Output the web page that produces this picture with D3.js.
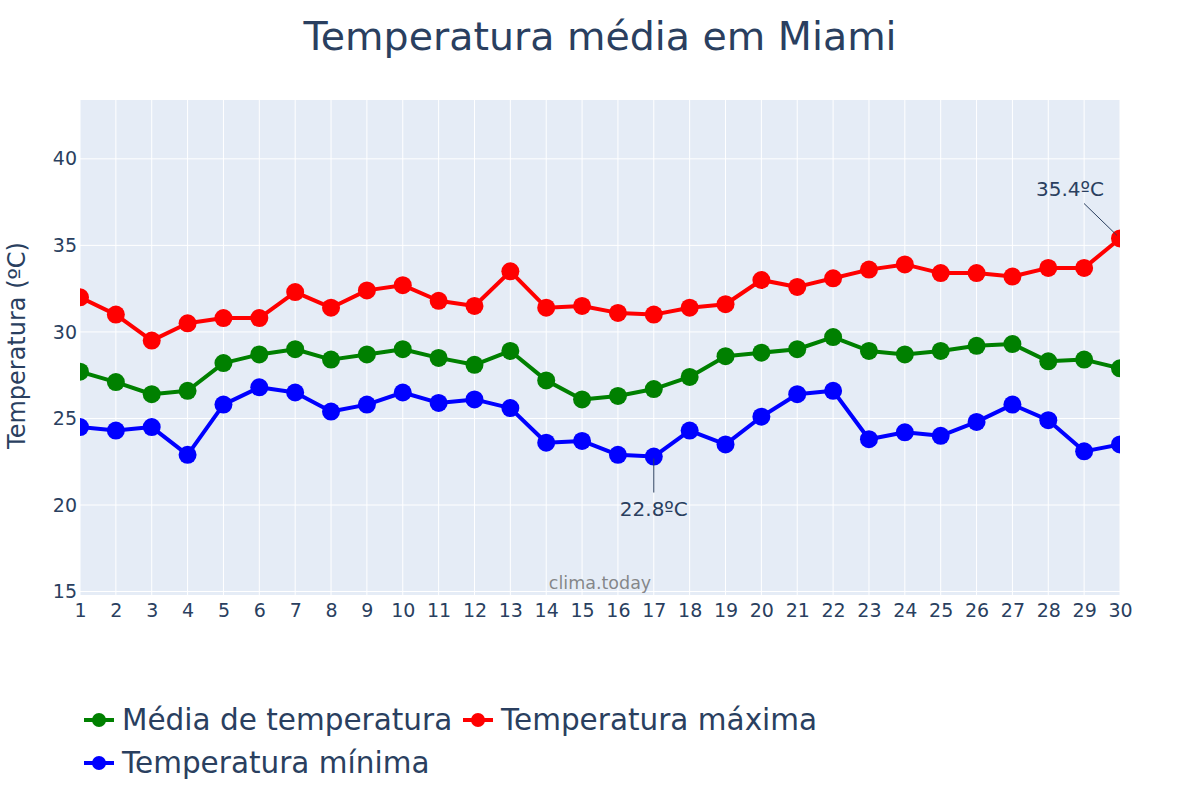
<!DOCTYPE html>
<html><head><meta charset="utf-8">
<script src="https://cdn.jsdelivr.net/npm/d3@7"></script>
<style>body{margin:0;background:#fff;} svg{display:block;}</style>
</head><body>
<svg id="c" width="1200" height="800"></svg>
<script>
const days = d3.range(1, 31);
const tempMedia = [27.7,27.1,26.4,26.6,28.2,28.7,29.0,28.4,28.7,29.0,28.5,28.1,28.9,27.2,26.1,26.3,26.7,27.4,28.6,28.8,29.0,29.7,28.9,28.7,28.9,29.2,29.3,28.3,28.4,27.9];
const tempMax = [32.0,31.0,29.5,30.5,30.8,30.8,32.3,31.4,32.4,32.7,31.8,31.5,33.5,31.4,31.5,31.1,31.0,31.4,31.6,33.0,32.6,33.1,33.6,33.9,33.4,33.4,33.2,33.7,33.7,35.4];
const tempMin = [24.5,24.3,24.5,22.9,25.8,26.8,26.5,25.4,25.8,26.5,25.9,26.1,25.6,23.6,23.7,22.9,22.8,24.3,23.5,25.1,26.4,26.6,23.8,24.2,24.0,24.8,25.8,24.9,23.1,23.5];
const yTicks = [15,20,25,30,35,40];
const seriesNames = ["Média de temperatura","Temperatura máxima","Temperatura mínima"];
const seriesColors = ["green","red","blue"];
const series = [tempMedia, tempMax, tempMin];

const font = "'DejaVu Sans', verdana, sans-serif";
const textColor = "#2a3f5f";
const svg = d3.select("#c");
const L = 80, R = 1120, T = 100, B = 595;
const x = d3.scaleLinear().domain([1, 30]).range([L, R]);
const y = d3.scaleLinear().domain([14.8, 43.4]).range([B, T]);

svg.append("rect").attr("x", L).attr("y", T).attr("width", R - L).attr("height", B - T).attr("fill", "#E5ECF6");
svg.append("clipPath").attr("id", "pc").append("rect").attr("x", L).attr("y", T).attr("width", R - L).attr("height", B - T);

// grid
const g = svg.append("g");
g.selectAll(".vg").data(days).join("line")
  .attr("x1", d => x(d)).attr("x2", d => x(d)).attr("y1", T).attr("y2", B)
  .attr("stroke", "#fff").attr("stroke-width", 1);
g.selectAll(".hg").data(yTicks).join("line")
  .attr("x1", L).attr("x2", R).attr("y1", d => y(d)).attr("y2", d => y(d))
  .attr("stroke", "#fff").attr("stroke-width", 1);

// axes
const xAxis = d3.axisBottom(x).tickValues(days).tickSize(0).tickPadding(5).tickFormat(d3.format("d"));
const xg = svg.append("g").attr("transform", `translate(0,${B})`).call(xAxis);
const yAxis = d3.axisLeft(y).tickValues(yTicks).tickSize(0).tickPadding(3);
const yg = svg.append("g").attr("transform", `translate(${L},0)`).call(yAxis);
[xg, yg].forEach(a => {
  a.select(".domain").remove();
  a.selectAll("text").attr("fill", textColor).style("font-family", font).style("font-size", "19px");
});
xg.selectAll("text").attr("dy", "0.9em");

// watermark
svg.append("text").attr("x", 600).attr("y", 589).attr("text-anchor", "middle")
  .attr("fill", "rgba(100,100,100,0.75)").style("font-family", font).style("font-size", "17.5px").text("clima.today");

// lines
const plot = svg.append("g").attr("clip-path", "url(#pc)");
const line = d3.line().x((d, i) => x(days[i])).y(d => y(d));
series.forEach((s, k) => {
  plot.append("path").datum(s).attr("d", line).attr("fill", "none")
    .attr("stroke", seriesColors[k]).attr("stroke-width", 4).attr("stroke-linejoin", "round");
  plot.selectAll(".m" + k).data(s).join("circle")
    .attr("cx", (d, i) => x(days[i])).attr("cy", d => y(d)).attr("r", 9)
    .attr("fill", seriesColors[k]);
});

const ann = svg.append("g");
// max
{
  const i = tempMax.indexOf(d3.max(tempMax));
  const px = x(days[i]), py = y(tempMax[i]);
  ann.append("line").attr("x1", px - 36).attr("y1", py - 35).attr("x2", px - 3).attr("y2", py - 3)
    .attr("stroke", textColor).attr("stroke-width", 1);
  ann.append("text").attr("x", px - 50).attr("y", py - 42).attr("text-anchor", "middle")
    .attr("fill", textColor).style("font-family", font).style("font-size", "20px")
    .text(d3.format(".1f")(tempMax[i]) + "ºC");
}
// min
{
  const i = tempMin.indexOf(d3.min(tempMin));
  const px = x(days[i]), py = y(tempMin[i]);
  ann.append("line").attr("x1", px).attr("y1", py + 2).attr("x2", px).attr("y2", py + 36)
    .attr("stroke", textColor).attr("stroke-width", 1);
  ann.append("text").attr("x", px).attr("y", py + 59).attr("text-anchor", "middle")
    .attr("fill", textColor).style("font-family", font).style("font-size", "20px")
    .text(d3.format(".1f")(tempMin[i]) + "ºC");
}

// title
svg.append("text").attr("x", 600).attr("y", 50).attr("text-anchor", "middle")
  .attr("fill", textColor).style("font-family", font).style("font-size", "39.5px")
  .text("Temperatura média em Miami");

// y axis title
svg.append("text").attr("transform", `translate(25,${(T + B) / 2 - 2}) rotate(-90)`)
  .attr("text-anchor", "middle").attr("fill", textColor)
  .style("font-family", font).style("font-size", "24px").text("Temperatura (ºC)");

// legend
const legendPos = [[84, 720], [463, 720], [84, 763]];
const lg = svg.append("g");
seriesNames.forEach((n, k) => {
  const [lx, ly] = legendPos[k];
  const it = lg.append("g").attr("transform", `translate(${lx},${ly})`);
  it.append("line").attr("x1", 0).attr("x2", 30).attr("y1", 0).attr("y2", 0)
    .attr("stroke", seriesColors[k]).attr("stroke-width", 4);
  it.append("circle").attr("cx", 15).attr("cy", 0).attr("r", 7).attr("fill", seriesColors[k]);
  it.append("text").attr("x", 38).attr("y", 0).attr("dy", "0.35em").attr("fill", textColor)
    .style("font-family", font).style("font-size", "29.5px").text(n);
});
</script>
</body></html>
